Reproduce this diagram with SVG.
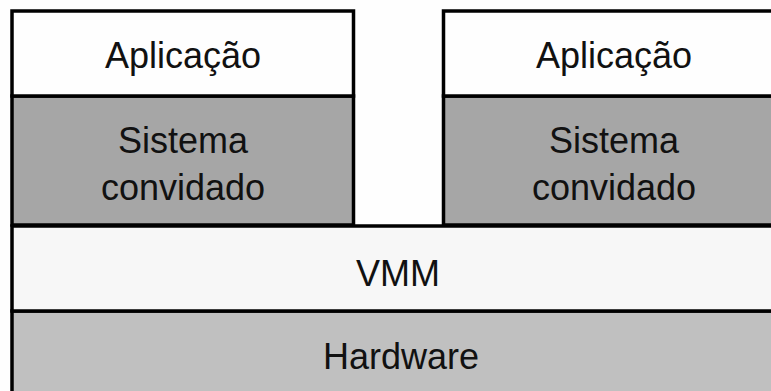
<svg xmlns="http://www.w3.org/2000/svg" width="771" height="391" viewBox="0 0 771 391">
  <style>
    .box { stroke: #000; stroke-width: 3.5; }
    .app { fill: #fefefe; }
    .guest { fill: #a6a6a6; }
    .vmm { fill: #f7f7f7; }
    .hw { fill: #c0c0c0; }
    text { font-family: "Liberation Sans", Arial, sans-serif; font-size: 36px; fill: #111; text-anchor: middle; }
  </style>
  <rect width="771" height="391" fill="#fefefe"/>

  <!-- hardware layer -->
  <g id="hardware">
    <rect class="box hw" x="12" y="311" width="790" height="110"/>
    <text x="401" y="369">Hardware</text>
  </g>

  <!-- virtual machine monitor -->
  <g id="vmm">
    <rect class="box vmm" x="12" y="226" width="790" height="85"/>
    <text x="398" y="286">VMM</text>
  </g>

  <!-- left virtual machine -->
  <g id="vm-left-guest">
    <rect class="box guest" x="12" y="96" width="341.5" height="129"/>
    <text x="183" y="153">Sistema</text>
    <text x="183" y="200">convidado</text>
  </g>
  <g id="vm-left-app">
    <rect class="box app" x="12" y="11" width="341.5" height="85"/>
    <text x="183" y="68">Aplicação</text>
  </g>

  <!-- right virtual machine -->
  <g id="vm-right-guest">
    <rect class="box guest" x="443.5" y="96" width="341.5" height="129"/>
    <text x="614" y="153">Sistema</text>
    <text x="614" y="200">convidado</text>
  </g>
  <g id="vm-right-app">
    <rect class="box app" x="443.5" y="11" width="341.5" height="85"/>
    <text x="614" y="68">Aplicação</text>
  </g>

  <g id="connectors"/>
</svg>
